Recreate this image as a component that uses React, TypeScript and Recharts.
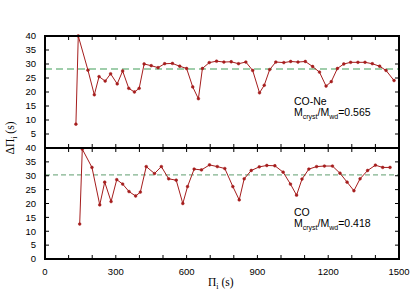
import React from 'react';
import { LineChart, Line, XAxis, YAxis, ReferenceLine } from 'recharts';

// CO-Ne model (upper panel)
const coNePeriods = [131, 141, 182, 209, 229, 255, 278, 306, 329, 355, 379, 399, 420, 450, 479, 507, 540, 571, 600, 626, 650, 667, 696, 727, 758, 789, 820, 851, 880, 909, 929, 952, 978, 1012, 1041, 1072, 1103, 1134, 1163, 1191, 1213, 1239, 1266, 1295, 1326, 1356, 1387, 1418, 1445, 1479];
const coNeSpacings = [8.5, 40, 27.8, 19, 25.5, 23.9, 26.5, 22.9, 27.5, 21.3, 20, 21.3, 30, 29.4, 28.7, 30.1, 30.2, 29.2, 28.4, 21.8, 17.6, 28.4, 30.5, 31, 30.7, 30.8, 30.1, 30.7, 27.7, 19.7, 22.4, 28, 30.7, 30.5, 30.9, 30.7, 30.9, 29.1, 27.1, 22.1, 23.7, 28.4, 30, 30.6, 30.6, 30.6, 30.1, 29.2, 27.7, 24.1];
const coNeMean = 28.2;

// CO model (lower panel)
const coPeriods = [147, 158, 199, 232, 253, 280, 304, 329, 356, 384, 404, 429, 464, 493, 524, 556, 584, 604, 632, 663, 697, 730, 762, 796, 823, 844, 874, 908, 940, 974, 1009, 1040, 1066, 1089, 1118, 1151, 1184, 1218, 1250, 1280, 1309, 1335, 1367, 1400, 1431, 1462];
const coSpacings = [12.6, 39.6, 33, 19.5, 27.7, 20.7, 28.6, 27, 24.3, 22.7, 24.1, 33.3, 30.8, 33.3, 28.9, 28.4, 20, 26.1, 32.4, 32.1, 33.9, 33.3, 32.6, 26.1, 21.3, 28.9, 31.9, 33.2, 33.7, 33.6, 31.3, 27, 23, 28.8, 32.4, 33.3, 33.5, 33.5, 30.9, 27.7, 24.6, 28.9, 31.9, 33.8, 33, 33];
const coMean = 30.3;

const xTicks = [0, 100, 200, 300, 400, 500, 600, 700, 800, 900, 1000, 1100, 1200, 1300, 1400, 1500];
const yTicks = [0, 5, 10, 15, 20, 25, 30, 35, 40];
const xDomain = [0, 1500];
const yDomain = [0, 40];

const coNeData = coNePeriods.map((x, i) => ({ x, y: coNeSpacings[i] }));
const coData = coPeriods.map((x, i) => ({ x, y: coSpacings[i] }));

const RED = '#a51d1d';
const SANS = 'Liberation Sans, Arial, sans-serif';
const redDot = { r: 1.4, fill: RED, stroke: RED, strokeWidth: 0.5 };

const LEFT = 45;
const RIGHT = 16;
const PLOT_W = 415 - LEFT - RIGHT;
const TICK = 4;

// x ticks: inward marks (filled rects) on bottom and top edge, label every 300 s
const makeXTick = (plotH: number, labels: boolean) => (p: any) => {
  const { x, y, payload } = p;
  const v = payload.value;
  return (
    <g>
      <rect x={x - 0.5} y={y - TICK} width={1} height={TICK} fill="#000" />
      <rect x={x - 0.5} y={y - plotH} width={1} height={TICK} fill="#000" />
      {labels && v % 300 === 0 && (
        <text x={x} y={y + 16} textAnchor="middle" fontSize={9.5} fontFamily={SANS} fill="#000">{v}</text>
      )}
    </g>
  );
};

// y ticks: inward marks on left and right edge
const makeYTick = (hideZero: boolean) => (p: any) => {
  const { x, y, payload } = p;
  const v = payload.value;
  return (
    <g>
      <rect x={x} y={y - 0.5} width={TICK} height={1} fill="#000" />
      <rect x={x + PLOT_W - TICK} y={y - 0.5} width={TICK} height={1} fill="#000" />
      {!(hideZero && v === 0) && (
        <text x={x - 9} y={y} dy="0.35em" textAnchor="end" fontSize={9.5} fontFamily={SANS} fill="#000">{v}</text>
      )}
    </g>
  );
};

const topXTick = makeXTick(112, false);
const bottomXTick = makeXTick(111, true);
const topYTick = makeYTick(true);
const bottomYTick = makeYTick(false);

const Panel = ({ data, mean, dashColor, dashWidth, dash, xTick, yTick, height, top, bottomAxisH }: any) => (
  <LineChart
    width={415}
    height={height}
    data={data}
    margin={{ top, right: RIGHT, left: 0, bottom: 0 }}
  >
    <XAxis
      dataKey="x"
      type="number"
      domain={xDomain}
      ticks={xTicks}
      interval={0}
      height={bottomAxisH}
      tickSize={0}
      tickMargin={0}
      tickLine={false}
      axisLine={false}
      tick={xTick}
    />
    <YAxis
      type="number"
      domain={yDomain}
      ticks={yTicks}
      interval={0}
      width={LEFT}
      tickSize={0}
      tickMargin={0}
      tickLine={false}
      axisLine={false}
      tick={yTick}
    />
    <ReferenceLine y={mean} stroke={dashColor} strokeWidth={dashWidth} strokeDasharray={dash} />
    <Line
      type="linear"
      dataKey="y"
      stroke={RED}
      strokeWidth={1}
      dot={redDot}
      isAnimationActive={false}
    />
  </LineChart>
);

const sub = { fontSize: 7, position: 'relative' as const, top: 2.5 };
const edge = { position: 'absolute' as const, background: '#000', pointerEvents: 'none' as const };

export default function App() {
  return (
    <div style={{ position: 'absolute', left: 0, top: 0, width: 415, height: 297, background: '#fff' }}>
      <div style={{ position: 'absolute', left: 0, top: 0 }}>
        <Panel data={coNeData} mean={coNeMean} dashColor="#9fceab" dashWidth={2} dash="7 4"
          xTick={topXTick} yTick={topYTick} top={36} height={149} bottomAxisH={1} />
      </div>
      <div style={{ position: 'absolute', left: 0, top: 140 }}>
        <Panel data={coData} mean={coMean} dashColor="#5f9e6f" dashWidth={1} dash="5 3"
          xTick={bottomXTick} yTick={bottomYTick} top={8} height={157} bottomAxisH={38} />
      </div>
      {/* panel frames */}
      <div style={{ ...edge, left: 44, top: 35, width: 356, height: 2 }} />
      <div style={{ ...edge, left: 44, top: 147, width: 356, height: 2 }} />
      <div style={{ ...edge, left: 44, top: 258, width: 356, height: 2 }} />
      <div style={{ ...edge, left: 44, top: 35, width: 2, height: 225 }} />
      <div style={{ ...edge, left: 398, top: 35, width: 2, height: 225 }} />
      <div style={{ position: 'absolute', left: 294, top: 96, fontFamily: SANS, fontSize: 10.5, lineHeight: '11px', color: '#000' }}>
        CO-Ne
        <br />
        M<span style={sub}>cryst</span>/M<span style={sub}>wd</span>=0.565
      </div>
      <div style={{ position: 'absolute', left: 294, top: 207, fontFamily: SANS, fontSize: 10.5, lineHeight: '11px', color: '#000' }}>
        CO
        <br />
        M<span style={sub}>cryst</span>/M<span style={sub}>wd</span>=0.418
      </div>
      <div style={{ position: 'absolute', left: 208, top: 276, fontFamily: 'Liberation Serif, Times New Roman, serif', fontSize: 11.5, color: '#000' }}>
        Π<span style={{ fontSize: 8, position: 'relative', top: 3 }}>i</span> (s)
      </div>
      <div style={{ position: 'absolute', left: 10, top: 138, width: 0, height: 0 }}>
        <div style={{ position: 'absolute', transform: 'translate(-50%, -50%) rotate(-90deg)', whiteSpace: 'nowrap', fontFamily: 'Liberation Serif, Times New Roman, serif', fontSize: 11.5, color: '#000' }}>
          ΔΠ<span style={{ fontSize: 8, position: 'relative', top: 3 }}>i</span> (s)
        </div>
      </div>
    </div>
  );
}
